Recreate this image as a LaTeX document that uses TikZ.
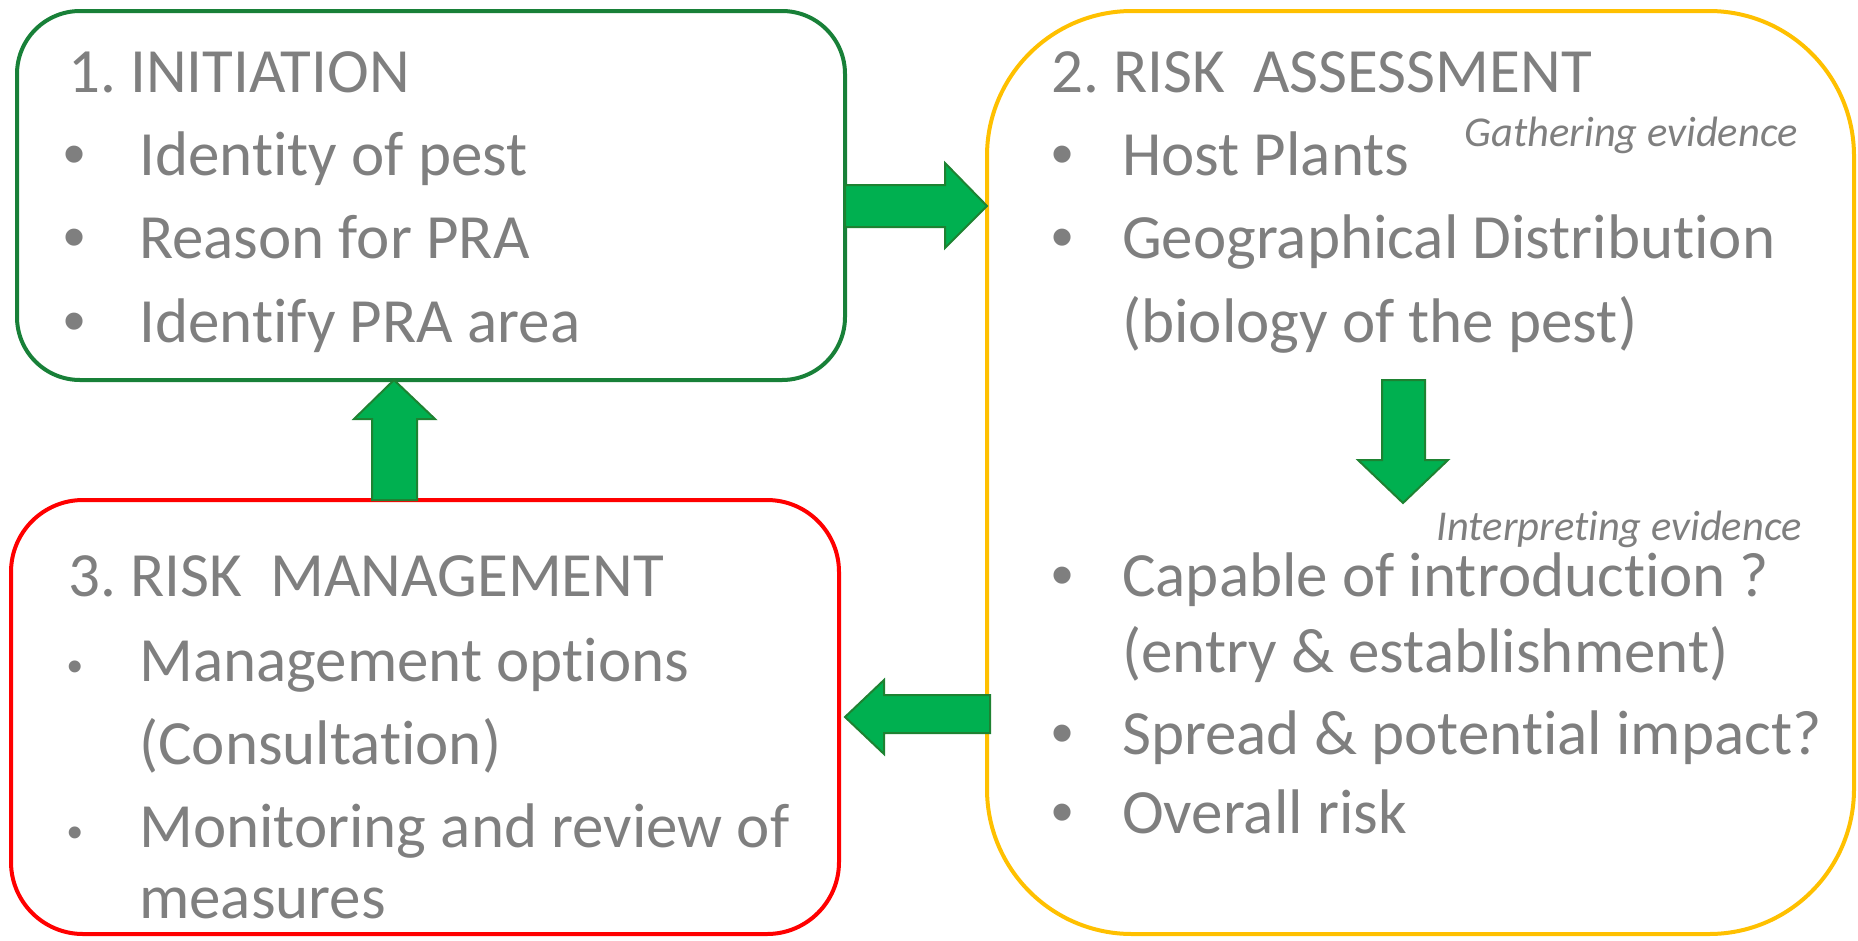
\documentclass[tikz,border=0pt]{standalone}
\usepackage{fontspec}
\setmainfont{Carlito}[Ligatures=NoCommon,RawFeature={-liga;-clig;-calt;-dlig}]
\newfontfamily\bulletfont{Liberation Sans}
\usepackage{tikz}
\frenchspacing

\definecolor{txtgray}{RGB}{127,127,127}
\definecolor{boxgreen}{RGB}{24,128,56}
\definecolor{boxyellow}{RGB}{255,192,0}
\definecolor{boxred}{RGB}{255,0,0}
\definecolor{arrowfill}{RGB}{0,176,80}
\definecolor{arrowline}{RGB}{30,130,50}

\begin{document}
\begin{tikzpicture}[x=1pt,y=-1pt,
  box/.style={draw,line width=4pt,inner sep=0pt},
  txt/.style={anchor=base west,inner sep=0pt,text=txtgray,font=\fontsize{63}{76}\selectfont},
  dot/.style={anchor=base,inner sep=0pt,text=txtgray,font=\bulletfont\fontsize{63}{76}\selectfont},
  smalldot/.style={dot,font=\bulletfont\fontsize{44}{52}\selectfont},
  note/.style={anchor=base east,inner sep=0pt,text=txtgray,font=\fontsize{42.5}{50}\selectfont\itshape},
  flow/.style={fill=arrowfill,draw=arrowline,line width=2pt}]
\useasboundingbox (0,0) rectangle (1858,940);

% the three stages
\node[box,draw=boxgreen,rounded corners=63pt,minimum width=828pt,minimum height=369pt] (init) at (431,195.5) {};
\node[box,draw=boxyellow,rounded corners=145pt,minimum width=867pt,minimum height=923pt] (assess) at (1420.5,472.5) {};
\node[box,draw=boxred,rounded corners=72pt,minimum width=828pt,minimum height=434pt] (manage) at (425,717) {};

% 1. initiation
\node[txt] (init-h) at (68,92) {1. INITIATION};
\foreach \y/\txt [count=\i] in {175/Identity of pest,258/Reason for PRA,342/Identify PRA area} {
  \node[dot] (init-b\i) at (75,\y) {•};
  \node[txt] (init-t\i) at (139,\y) {\txt};
}

% 2. risk assessment
\node[txt] (assess-h) at (1051,92) {2. RISK\ \ ASSESSMENT};
\foreach \y/\txt [count=\i] in {175/Host Plants,258/Geographical Distribution,342/(biology of the pest),
    596/Capable of introduction ?,672/(entry \& establishment),754/Spread \& potential impact?,833/Overall risk}
  \node[txt] (assess-t\i) at (1122,\y) {\txt};
\foreach \y [count=\i] in {175,258,596,754,833}
  \node[dot] (assess-b\i) at (1063,\y) {•};
\node[note] (gather) at (1798,146) {Gathering evidence};
\node[note] (interpret) at (1802,540) {Interpreting evidence};

% 3. risk management
\node[txt] (manage-h) at (68,596) {3. RISK\ \ MANAGEMENT};
\foreach \y/\txt [count=\i] in {681/Management options,764/(Consultation),847/Monitoring and review of,918/measures}
  \node[txt] (manage-t\i) at (139,\y) {\txt};
\foreach \y [count=\i] in {681,847}
  \node[smalldot] (manage-b\i) at (75,\y) {•};

% block arrows
\draw[flow] (845,185) -- (945,185) -- (945,163) -- (987,206) -- (945,248) -- (945,227) -- (845,227) -- cycle;
\draw[flow] (372,500) -- (372,419) -- (354,419) -- (394,380) -- (435,419) -- (417,419) -- (417,500) -- cycle;
\draw[flow] (990,695) -- (884,695) -- (884,680) -- (845,717) -- (884,754) -- (884,733) -- (990,733) -- cycle;
\draw[flow] (1382,380) -- (1425,380) -- (1425,460) -- (1448,460) -- (1403,503) -- (1358,460) -- (1382,460) -- cycle;
\end{tikzpicture}
\end{document}
